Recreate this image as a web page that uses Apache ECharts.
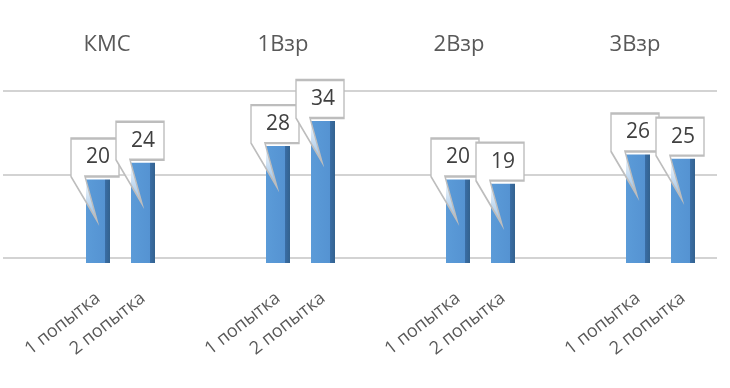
<!DOCTYPE html>
<html>
<head>
<meta charset="utf-8">
<script src="https://cdn.jsdelivr.net/npm/echarts@6/dist/echarts.min.js"></script>
<style>
html,body{margin:0;padding:0;background:#fff;}
#chart{width:730px;height:388px;}
</style>
</head>
<body>
<div id="chart"></div>
<script>
// ---- data ----
const groups = ['КМС', '1Взр', '2Взр', '3Взр'];
const seriesNames = ['1 попытка', '2 попытка'];
const attempt1 = [20, 28, 20, 26];
const attempt2 = [24, 34, 19, 25];
const yTicks = [0, 20, 40];

// ---- styling ----
const FONT = 'Open Sans';
const textGray = '#595959';
const calloutPath = 'path://M0,0 L48,0 L48,38 L14,38 L26,82 L0,38 Z';

const barColor = {
  type: 'linear', x: 0, y: 0, x2: 1, y2: 0,
  colorStops: [
    { offset: 0, color: '#5b9bd8' },
    { offset: 0.78, color: '#5593d2' },
    { offset: 0.79, color: '#3a6ea6' },
    { offset: 1, color: '#33628f' }
  ]
};
const calloutFill = {
  type: 'linear', x: 0, y: 0, x2: 0, y2: 1,
  colorStops: [
    { offset: 0, color: '#ffffff' },
    { offset: 0.46, color: '#ffffff' },
    { offset: 1, color: 'rgba(255,255,255,0.35)' }
  ]
};

function makeBar(name, values) {
  return {
    type: 'bar',
    name: name,
    xAxisIndex: 1,
    yAxisIndex: 1,
    data: values,
    barWidth: 24,
    barGap: '87.5%',
    itemStyle: { color: barColor },
    label: {
      show: true,
      position: 'bottom',
      distance: 33,
      formatter: '{a}',
      rotate: 38,
      align: 'right',
      verticalAlign: 'middle',
      color: textGray,
      fontFamily: FONT,
      fontSize: 18
    },
    markPoint: {
      symbol: calloutPath,
      symbolSize: [48, 82],
      symbolOffset: [-3, 0],
      itemStyle: { color: calloutFill, borderColor: '#bdbdbd', borderWidth: 1.8 },
      label: {
        show: true,
        position: 'inside',
        offset: [3, -22],
        formatter: '{c}',
        color: '#404040',
        fontFamily: FONT,
        fontSize: 21
      },
      data: values.map((v, i) => ({ coord: [groups[i], v], value: v }))
    }
  };
}

const chart = echarts.init(document.getElementById('chart'), null, { renderer: 'canvas' });
chart.setOption({
  backgroundColor: '#ffffff',
  animation: false,
  textStyle: { fontFamily: FONT },
  grid: [
    { left: 3, right: 13, top: 91, bottom: 130, outerBoundsMode: 'none', containLabel: false },
    { left: 30.5, right: -20.5, top: 96, bottom: 125, outerBoundsMode: 'none', containLabel: false },
    { left: 19, right: 7, top: 45, height: 1, outerBoundsMode: 'none', containLabel: false }
  ],
  xAxis: [
    { type: 'category', gridIndex: 0, data: groups, show: false },
    { type: 'category', gridIndex: 1, data: groups, show: false },
    {
      type: 'category', gridIndex: 2, data: groups, position: 'top',
      axisLine: { show: false }, axisTick: { show: false },
      axisLabel: { margin: 0, verticalAlign: 'middle', color: textGray, fontFamily: FONT, fontSize: 22 }
    }
  ],
  yAxis: [
    {
      type: 'value', gridIndex: 0, min: yTicks[0], max: yTicks[yTicks.length - 1], interval: yTicks[1] - yTicks[0],
      axisLine: { show: false }, axisTick: { show: false }, axisLabel: { show: false },
      splitLine: { show: true, lineStyle: { color: '#d3d3d3', width: 2 } }
    },
    {
      type: 'value', gridIndex: 1, min: yTicks[0], max: yTicks[yTicks.length - 1], interval: yTicks[1] - yTicks[0],
      show: false, splitLine: { show: false }
    },
    { type: 'value', gridIndex: 2, show: false, splitLine: { show: false } }
  ],
  series: [
    makeBar(seriesNames[0], attempt1),
    makeBar(seriesNames[1], attempt2)
  ]
});
</script>
</body>
</html>
